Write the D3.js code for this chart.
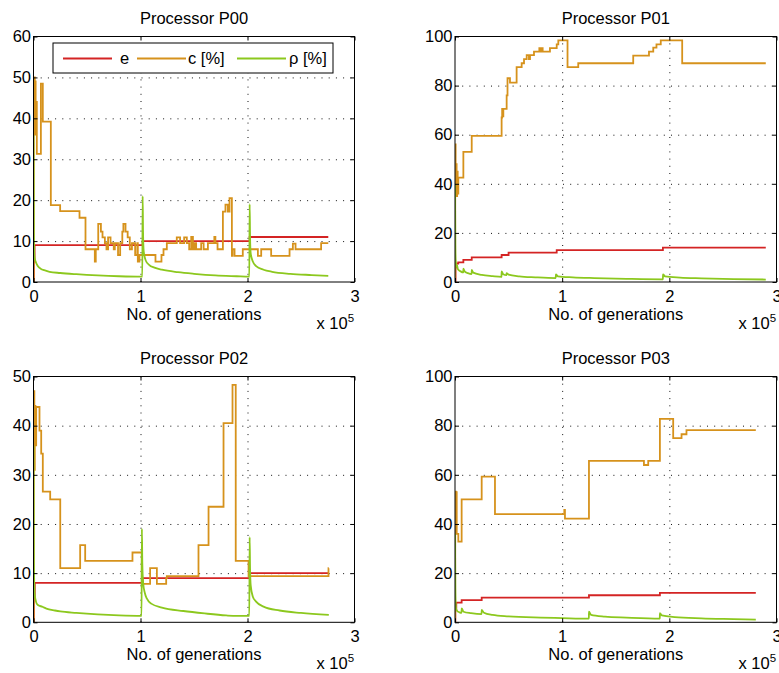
<!DOCTYPE html>
<html>
<head>
<meta charset="utf-8">
<script src="https://cdn.jsdelivr.net/npm/d3@7"></script>
<style>
  body { margin: 0; background: #fff; }
  svg { display: block; font-family: "Liberation Sans", Arial, Helvetica, sans-serif; }
</style>
</head>
<body>
<div id="chart"></div>
<script>
'use strict';

// x values are generations in units of 1e5 (as on the axis), y values as plotted
var p00E = [[0,0],[0.003,5],[0.01,9],[1.02,10],[2.02,11],[2.755,11]];
var p00C = [[0,0],[0.002,45],[0.005,36],[0.008,50],[0.012,38],[0.016,49],[0.02,36],[0.025,44],
    [0.031,31.3],[0.069,48.5],[0.087,39.2],[0.162,18.8],[0.249,17.3],[0.43,15.7],[0.486,8],
    [0.573,5],[0.582,8],[0.605,14.2],[0.63,12.3],[0.645,10.9],[0.667,9.5],[0.682,8],[0.697,10.9],
    [0.72,9.5],[0.75,8],[0.76,9.5],[0.79,6.6],[0.81,9.5],[0.83,12.3],[0.84,14.2],[0.86,12.3],
    [0.88,10.9],[0.9,8],[0.92,9.5],[0.95,6.6],[0.97,9.5],[0.975,5],[0.99,6.6],[1.14,5],[1.196,6.6],
    [1.215,8],[1.246,9.5],[1.339,10.9],[1.37,9.5],[1.408,10.9],[1.433,9.5],[1.455,8],[1.474,11],
    [1.49,8],[1.505,9.5],[1.52,8],[1.567,9.5],[1.59,8],[1.63,9.5],[1.69,11],[1.70,9.5],[1.72,8],
    [1.77,17.2],[1.794,18.9],[1.816,17.2],[1.832,20.5],[1.854,6.4],[1.86,8],[1.879,6.4],[1.956,8],
    [2.097,6.4],[2.128,8],[2.221,6.4],[2.393,8],[2.424,9.4],[2.449,8],[2.688,9.5],[2.755,9.5]];
var p00Rho = [[0,36],[0.003,12],[0.006,8],[0.01,6],[0.02,5],[0.04,3.9],[0.07,3.2],[0.1,2.9],
    [0.15,2.5],[0.25,2.2],[0.4,1.9],[0.6,1.6],[0.8,1.4],[1.017,1.3],[1.02,21],[1.024,12],[1.03,7.5],
    [1.05,5.2],[1.08,4.2],[1.13,3.5],[1.2,3],[1.35,2.4],[1.5,2],[1.7,1.6],[1.9,1.4],[2.017,1.3],
    [2.02,19],[2.024,11],[2.03,7],[2.05,5],[2.08,3.9],[2.15,3],[2.23,2.5],[2.4,2],[2.6,1.7],[2.755,1.5]];

var p01E = [[0,0],[0.005,6],[0.012,7.5],[0.03,8],[0.078,9],[0.156,10],[0.435,11],[0.5,12],
    [0.949,13],[1.94,14],[2.9,14]];
var p01C = [[0,0],[0.002,56],[0.006,36],[0.01,48],[0.015,35],[0.02,45],[0.025,36],[0.031,42.5],
    [0.078,53],[0.156,59.5],[0.435,67],[0.44,70.5],[0.445,67.5],[0.451,70.5],[0.482,76],[0.49,83],
    [0.513,81.2],[0.575,87.5],[0.622,89.1],[0.644,90.8],[0.669,92.4],[0.69,90.8],[0.7,92.4],
    [0.737,93.8],[0.787,95.3],[0.8,93.8],[0.805,95.3],[0.818,93.8],[0.886,95.3],[0.949,96.8],
    [0.964,98.4],[1.05,87.5],[1.15,89.1],[1.663,92.2],[1.81,93.8],[1.85,95.5],[1.88,96.8],
    [1.92,98.4],[2.12,89.1],[2.9,89.1]];
var p01Rho = [[0,40],[0.003,15],[0.006,9],[0.01,7.5],[0.015,6],[0.02,6.8],[0.025,5.5],[0.031,5],
    [0.05,4.4],[0.077,3.9],[0.078,5.4],[0.09,4.3],[0.12,3.6],[0.155,3.2],[0.156,4.9],[0.17,3.8],
    [0.25,2.9],[0.35,2.4],[0.434,2.1],[0.435,4.3],[0.45,3.2],[0.48,2.8],[0.481,3.6],[0.5,3],
    [0.6,2.3],[0.75,1.9],[0.94,1.6],[0.941,3.1],[0.96,2.3],[1.1,1.9],[1.3,1.6],[1.6,1.3],
    [1.94,1.1],[1.941,3.1],[1.96,2.3],[2.1,1.8],[2.3,1.5],[2.6,1.2],[2.9,1.0]];

var p02E = [[0,0],[0.003,5],[0.012,8],[1.02,9],[2.02,10],[2.76,10]];
var p02C = [[0,0],[0.002,36],[0.004,47],[0.008,31],[0.012,44],[0.018,36],[0.025,43.8],[0.056,39],
    [0.072,34.3],[0.087,26.6],[0.156,25],[0.25,11],[0.436,15.7],[0.483,12.5],[0.925,14.2],
    [1.012,7.8],[1.09,11],[1.153,7.8],[1.24,9],[1.246,9.4],[1.542,15.7],[1.636,23.5],[1.776,40.5],
    [1.86,48.3],[1.89,12.5],[2.01,9.4],[2.757,11],[2.76,11]];
var p02Rho = [[0,36],[0.003,14],[0.006,9],[0.01,6],[0.02,4.5],[0.03,3.8],[0.05,3.4],[0.08,3.2],
    [0.12,2.8],[0.2,2.4],[0.25,2.2],[0.4,1.9],[0.6,1.6],[0.8,1.4],[1.01,1.3],[1.013,19],[1.017,12],
    [1.025,8],[1.04,6],[1.06,4.8],[1.1,3.8],[1.2,3],[1.4,2.3],[1.6,1.8],[1.8,1.4],[1.9,1.3],
    [2.017,1.3],[2.02,17.3],[2.024,11],[2.03,7.5],[2.05,5.2],[2.08,4.2],[2.15,3.2],[2.3,2.4],
    [2.5,1.9],[2.76,1.5]];

var p03E = [[0,0],[0.003,5],[0.012,8],[0.062,9],[0.249,10],[1.25,11],[1.912,12],[2.807,12]];
var p03C = [[0,0],[0.002,36],[0.004,53.2],[0.008,40],[0.012,53],[0.016,36],[0.031,32.8],[0.062,50],
    [0.249,59.3],[0.373,44],[1.02,45.7],[1.026,42.2],[1.25,65.7],[1.763,64],[1.803,65.7],
    [1.912,82.8],[2.036,74.9],[2.114,76.5],[2.16,78.2],[2.807,78.2]];
var p03Rho = [[0,36],[0.003,14],[0.006,8],[0.01,5.5],[0.02,4.6],[0.04,4.1],[0.061,3.8],[0.062,5.7],
    [0.08,4.3],[0.15,3.7],[0.248,3.3],[0.249,5],[0.27,3.9],[0.35,3],[0.5,2.4],[0.8,1.9],[1.0,1.7],
    [1.249,1.5],[1.25,4.3],[1.27,3],[1.4,2.3],[1.6,1.9],[1.911,1.5],[1.912,3.7],[1.93,2.8],
    [2.05,2.1],[2.3,1.6],[2.6,1.3],[2.807,1.1]];

var titles = ['Processor P00', 'Processor P01', 'Processor P02', 'Processor P03'];
var xTicks = [0, 1, 2, 3];
var yTicks60 = [0, 10, 20, 30, 40, 50, 60],
    yTicks100 = [0, 20, 40, 60, 80, 100],
    yTicks50 = [0, 10, 20, 30, 40, 50];
var seriesNames = ['e', 'c [%]', '\u03c1 [%]'];
var seriesColors = ['#d42424', '#d6921c', '#8cc81e'];
var xLabel = 'No. of generations';

var W = 779, H = 673, FONT = 16.5;
var cols = [[33.5, 354.5], [455, 776.5]],
    rows = [[36.5, 282], [376.5, 622.3]];

var svg, panels;

function setup(){
    svg = d3.select('#chart').append('svg')
        .attr('width', W)
        .attr('height', H);

    panels = [
        {title: titles[0], col: 0, row: 0, yTicks: yTicks60, series: [p00E, p00C, p00Rho], legend: true},
        {title: titles[1], col: 1, row: 0, yTicks: yTicks100, series: [p01E, p01C, p01Rho]},
        {title: titles[2], col: 0, row: 1, yTicks: yTicks50, series: [p02E, p02C, p02Rho]},
        {title: titles[3], col: 1, row: 1, yTicks: yTicks100, series: [p03E, p03C, p03Rho]}
    ];

    panels.forEach(drawPanel);
}

function styleAxis(sel){
    sel.select('.domain').remove();
    sel.selectAll('text')
        .attr('font-size', FONT)
        .attr('font-family', '"Liberation Sans", Arial, sans-serif')
        .attr('fill', '#000');
    sel.selectAll('line').attr('stroke', '#000');
}

function drawPanel(p, i){
    var x0 = cols[p.col][0], x1 = cols[p.col][1],
        y0 = rows[p.row][0], y1 = rows[p.row][1];
    var x = d3.scaleLinear().domain([0, 3]).range([x0, x1]);
    var y = d3.scaleLinear().domain([0, d3.max(p.yTicks)]).range([y1, y0]);
    var g = svg.append('g').attr('class', 'panel');
    var clipId = 'clip' + i;

    g.append('clipPath').attr('id', clipId)
        .append('rect')
        .attr('x', x0).attr('y', y0)
        .attr('width', x1 - x0).attr('height', y1 - y0);

    // dotted grid
    g.append('g')
        .attr('transform', 'translate(0,' + y1 + ')')
        .call(d3.axisBottom(x).tickValues(xTicks.slice(1, -1)).tickSize(-(y1 - y0)).tickFormat(''))
        .call(styleAxis)
        .selectAll('line').attr('stroke', '#111').attr('stroke-dasharray', '1,6.2');
    g.append('g')
        .attr('transform', 'translate(' + x0 + ',0)')
        .call(d3.axisLeft(y).tickValues(p.yTicks.slice(1, -1)).tickSize(-(x1 - x0)).tickFormat(''))
        .call(styleAxis)
        .selectAll('line').attr('stroke', '#111').attr('stroke-dasharray', '1,6.2');

    // lines
    var lineStep = d3.line()
        .x(function(d){ return x(d[0]); })
        .y(function(d){ return y(d[1]); })
        .curve(d3.curveStepAfter);
    var lineSmooth = d3.line()
        .x(function(d){ return x(d[0]); })
        .y(function(d){ return y(d[1]); })
        .curve(d3.curveMonotoneX);

    g.append('g').attr('clip-path', 'url(#' + clipId + ')')
        .selectAll('path').data(p.series)
        .enter().append('path')
        .attr('d', function(d, k){ return k === 2 ? lineSmooth(d) : lineStep(d); })
        .attr('fill', 'none')
        .attr('stroke', function(d, k){ return seriesColors[k]; })
        .attr('stroke-width', 1.8)
        .attr('stroke-linejoin', 'miter');

    // box + inward ticks
    g.append('rect')
        .attr('x', x0).attr('y', y0)
        .attr('width', x1 - x0).attr('height', y1 - y0)
        .attr('fill', 'none').attr('stroke', '#000').attr('stroke-width', 1);

    g.append('g')
        .attr('transform', 'translate(0,' + y1 + ')')
        .call(d3.axisBottom(x).tickValues(xTicks).tickSize(-4).tickPadding(8).tickFormat(d3.format('d')))
        .call(styleAxis);
    g.append('g')
        .attr('transform', 'translate(0,' + y0 + ')')
        .call(d3.axisTop(x).tickValues(xTicks).tickSize(-4).tickFormat(''))
        .call(styleAxis);
    g.append('g')
        .attr('transform', 'translate(' + x0 + ',0)')
        .call(d3.axisLeft(y).tickValues(p.yTicks).tickSize(-4).tickPadding(2.5).tickFormat(d3.format('d')))
        .call(styleAxis);
    g.append('g')
        .attr('transform', 'translate(' + x1 + ',0)')
        .call(d3.axisRight(y).tickValues(p.yTicks).tickSize(-4).tickFormat(''))
        .call(styleAxis);

    // texts
    g.append('text')
        .attr('x', (x0 + x1) / 2).attr('y', y0 - 13)
        .attr('text-anchor', 'middle')
        .attr('font-size', FONT)
        .text(p.title);
    g.append('text')
        .attr('x', (x0 + x1) / 2).attr('y', y1 + 38)
        .attr('text-anchor', 'middle')
        .attr('font-size', FONT)
        .text(xLabel);
    var mult = g.append('text')
        .attr('x', x1 - 38).attr('y', y1 + 47)
        .attr('font-size', FONT);
    mult.append('tspan').text('x 10');
    mult.append('tspan').attr('dy', -7).attr('font-size', 11.5).text('5');

    if(p.legend){
        drawLegend(g, x0 + 19.5, y0 + 6.5);
    }
}

function drawLegend(g, lx, ly){
    var lineStart = [10, 84, 184],
        textStart = [67, 135, 236];
    var leg = g.append('g').attr('transform', 'translate(' + lx + ',' + ly + ')');
    leg.append('rect')
        .attr('width', 280).attr('height', 30)
        .attr('fill', '#fff').attr('stroke', '#000').attr('stroke-width', 1);
    var items = leg.selectAll('.item').data(seriesNames)
        .enter().append('g').attr('class', 'item');
    items.append('line')
        .attr('x1', function(d, k){ return lineStart[k]; })
        .attr('x2', function(d, k){ return lineStart[k] + 49; })
        .attr('y1', 15.5).attr('y2', 15.5)
        .attr('stroke', function(d, k){ return seriesColors[k]; })
        .attr('stroke-width', 1.8);
    items.append('text')
        .attr('x', function(d, k){ return textStart[k]; })
        .attr('y', 21)
        .attr('font-size', FONT)
        .text(function(d){ return d; });
}

setup();
</script>
</body>
</html>
